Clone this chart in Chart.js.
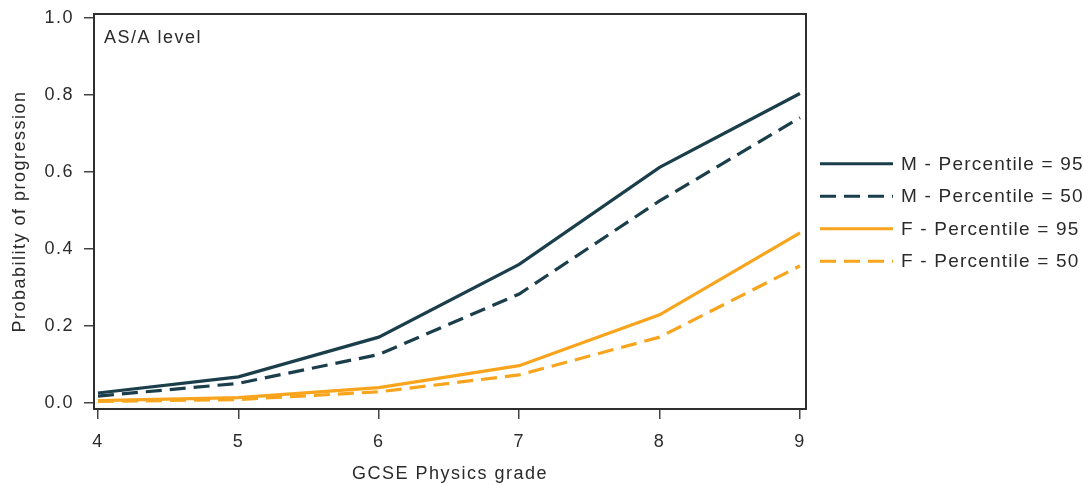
<!DOCTYPE html>
<html><head><meta charset="utf-8">
<script src="https://cdn.jsdelivr.net/npm/chart.js@4.4.1/dist/chart.umd.min.js"></script>
<style>html,body{margin:0;padding:0;background:#fff;}#wrap{width:1083px;height:485px;position:relative;}</style>
</head><body><div id="wrap"><canvas id="c" width="1083" height="485"></canvas></div>
<script>
const grades = [4, 5, 6, 7, 8, 9];
const m95 = [0.026, 0.068, 0.171, 0.360, 0.612, 0.804];
const m50 = [0.018, 0.051, 0.126, 0.283, 0.525, 0.741];
const f95 = [0.006, 0.014, 0.040, 0.097, 0.229, 0.442];
const f50 = [0.004, 0.009, 0.029, 0.073, 0.171, 0.356];
const yTicks = [0, 0.2, 0.4, 0.6, 0.8, 1.0];
const xTicks = [4, 5, 6, 7, 8, 9];
const seriesLabels = ['M - Percentile = 95', 'M - Percentile = 50', 'F - Percentile = 95', 'F - Percentile = 50'];
const panelLabel = 'AS/A level';
const xTitle = 'GCSE Physics grade';
const yTitle = 'Probability of progression';

const TEAL = '#1b3e4b';
const ORANGE = '#f8a51d';
const TEXT = '#2b2b2b';
const FONT = "'Liberation Sans', Arial, sans-serif";
const DASH = [16, 8];

function pts(vals) { return grades.map((g, i) => ({x: g, y: vals[i]})); }

const spacingPlugin = {
  id: 'spacing',
  beforeInit(chart) { chart.ctx.letterSpacing = '1.5px'; },
  beforeUpdate(chart) { chart.ctx.letterSpacing = '1.5px'; },
  beforeDraw(chart) { chart.ctx.letterSpacing = '1.5px'; }
};

const framePlugin = {
  id: 'frame',
  afterDatasetsDraw(chart) {
    const {ctx, chartArea: a} = chart;
    ctx.save();
    ctx.strokeStyle = '#2f2f2f';
    ctx.lineWidth = 2;
    ctx.strokeRect(a.left, a.top, a.right - a.left, a.bottom - a.top);
    ctx.fillStyle = TEXT;
    ctx.font = "18px " + FONT;
    ctx.letterSpacing = '1.5px';
    ctx.textBaseline = 'top';
    ctx.textAlign = 'left';
    ctx.fillText(panelLabel, a.left + 10, a.top + 15);
    ctx.restore();
  }
};

const legendPlugin = {
  id: 'sideLegend',
  afterDraw(chart) {
    const {ctx, chartArea: a} = chart;
    const x0 = a.right + 14, x1 = a.right + 87, tx = a.right + 95;
    const cy = (a.top + a.bottom) / 2;
    const gap = 32.5;
    ctx.save();
    ctx.font = "19px " + FONT;
    ctx.letterSpacing = '1.2px';
    ctx.textBaseline = 'middle';
    ctx.textAlign = 'left';
    chart.data.datasets.forEach((ds, i) => {
      const y = cy + (i - 1.5) * gap + 1;
      ctx.strokeStyle = ds.borderColor;
      ctx.lineWidth = ds.borderWidth;
      ctx.setLineDash(ds.borderDash || []);
      ctx.beginPath();
      ctx.moveTo(x0, y);
      ctx.lineTo(x1, y);
      ctx.stroke();
      ctx.setLineDash([]);
      ctx.fillStyle = TEXT;
      ctx.fillText(ds.label, tx, y + 1);
    });
    ctx.restore();
  }
};

const ctx = document.getElementById('c');
new Chart(ctx, {
  type: 'line',
  data: {
    datasets: [
      {label: seriesLabels[0], data: pts(m95), borderColor: TEAL, borderWidth: 3.2, borderDash: []},
      {label: seriesLabels[1], data: pts(m50), borderColor: TEAL, borderWidth: 3.2, borderDash: DASH},
      {label: seriesLabels[2], data: pts(f95), borderColor: ORANGE, borderWidth: 3.2, borderDash: []},
      {label: seriesLabels[3], data: pts(f50), borderColor: ORANGE, borderWidth: 3.2, borderDash: DASH}
    ]
  },
  options: {
    responsive: false,
    animation: false,
    devicePixelRatio: 1,
    layout: {padding: {left: 0, right: 277, top: 14, bottom: 0}},
    elements: {point: {radius: 0, hoverRadius: 0}, line: {tension: 0, fill: false}},
    plugins: {legend: {display: false}, tooltip: {enabled: false}},
    scales: {
      x: {
        type: 'linear',
        min: 3.9715, max: 9.043,
        afterBuildTicks(s) { s.ticks = xTicks.map(v => ({value: v})); },
        afterFit(s) { s.height = 76; s.paddingLeft = 0; s.paddingRight = 0; },
        grid: {display: true, drawOnChartArea: false, drawTicks: true, tickLength: 10, color: '#444', lineWidth: 1.5},
        border: {display: false},
        ticks: {color: TEXT, font: {size: 18, family: FONT}, padding: 12, maxRotation: 0, callback: v => String(v)},
        title: {display: true, text: xTitle, color: TEXT, font: {size: 18, family: FONT}, padding: {top: 5, bottom: 0}}
      },
      y: {
        type: 'linear',
        min: -0.0156, max: 1.0104,
        afterBuildTicks(s) { s.ticks = yTicks.map(v => ({value: v})); },
        afterFit(s) { s.width = 94; s.paddingTop = 0; s.paddingBottom = 0; },
        grid: {display: true, drawOnChartArea: false, drawTicks: true, tickLength: 10, color: '#444', lineWidth: 1.5},
        border: {display: false},
        ticks: {color: TEXT, font: {size: 18, family: FONT}, padding: 10, callback: v => v.toFixed(1)},
        title: {display: true, text: yTitle, color: TEXT, font: {size: 18, family: FONT}, padding: {top: 9, bottom: 0}}
      }
    }
  },
  plugins: [spacingPlugin, framePlugin, legendPlugin]
});
</script>
</body></html>
